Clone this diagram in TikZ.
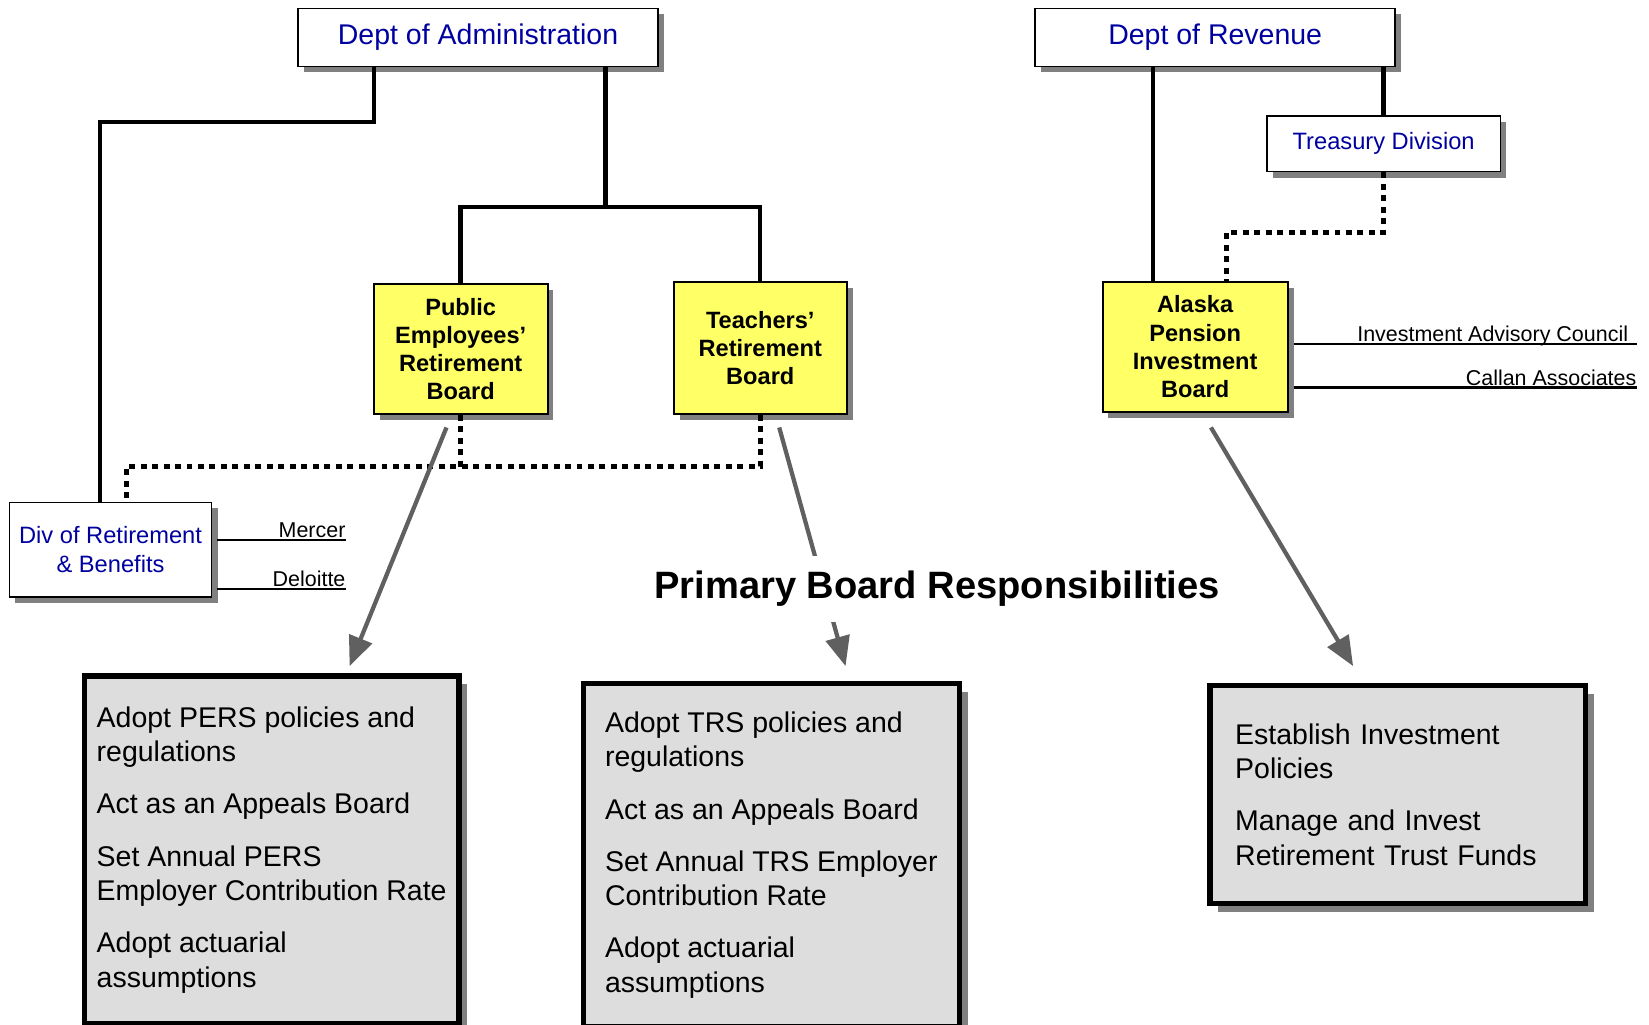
\documentclass[tikz,border=0pt]{standalone}
\usepackage{fontspec}
\setmainfont{Liberation Sans}
\usetikzlibrary{arrows.meta,shadows}

\definecolor{deptblue}{RGB}{0,0,160}
\definecolor{boardyellow}{RGB}{255,255,102}
\definecolor{dutygray}{RGB}{221,221,221}
\definecolor{shadowgray}{RGB}{128,128,128}
\definecolor{arrowgray}{RGB}{96,96,96}

\begin{document}
\begin{tikzpicture}[x=0.02cm, y=-0.02cm]
	\tikzstyle{boxshadow} = [drop shadow={shadow xshift=3.2pt, shadow yshift=-3.2pt, fill=shadowgray, opacity=1}]
	\tikzstyle{dept} = [draw, line width=0.8pt, fill=white, boxshadow, text=deptblue, inner sep=0pt, align=center]
	\tikzstyle{board} = [draw, line width=1.1pt, fill=boardyellow, boxshadow, inner sep=0pt, align=center, font=\bfseries\fontsize{12.75}{15.3}\selectfont]
	\tikzstyle{duties} = [draw, line width=2.8pt, fill=dutygray, inner sep=0pt, align=left, font=\fontsize{15.4}{18.6}\selectfont, drop shadow={shadow xshift=4.5pt, shadow yshift=-4.5pt, fill=shadowgray, opacity=1}]
	\tikzstyle{conn} = [line width=2.4pt]
	\tikzstyle{dotline} = [line width=2.5pt, dash pattern=on 3.2pt off 3pt]
	\tikzstyle{resparrow} = [line width=2.3pt, draw=arrowgray, -{Triangle[length=16pt, width=13pt]}]
	\tikzstyle{firmline} = [line width=1.1pt]
	\tikzstyle{firm} = [anchor=base east, inner sep=0pt, yshift=1.3pt, font=\fontsize{11.6}{13}\selectfont]

	\useasboundingbox (0,0) rectangle (1566,972.5);

	\node [dept, minimum width=6.84cm, minimum height=1.1cm, font=\fontsize{15.4}{18}\selectfont] (Admin) at (454,35.5) {Dept of Administration};
	\node [dept, minimum width=6.84cm, minimum height=1.1cm, font=\fontsize{15.4}{18}\selectfont] (Revenue) at (1154,35.5) {Dept of Revenue};
	\node [dept, minimum width=4.44cm, minimum height=1.06cm, font=\fontsize{12.8}{15}\selectfont] (Treasury) at (1314,136.5) {Treasury Division};
	\node [dept, minimum width=3.84cm, minimum height=1.8cm, font=\fontsize{12.8}{15.9}\selectfont] (DRB) at (105,522) {Div of Retirement\\\& Benefits};
	\node [board, minimum width=3.3cm, minimum height=2.46cm] (PERB) at (437.5,331.5) {Public\\Employees’\\Retirement\\Board};
	\node [board, minimum width=3.28cm, minimum height=2.5cm] (TRB) at (722,330.5) {Teachers’\\Retirement\\Board};
	\node [board, minimum width=3.52cm, minimum height=2.46cm] (APIB) at (1135,329.5) {Alaska\\Pension\\Investment\\Board};

	\node [duties, minimum width=7.12cm, minimum height=6.6cm] (PERSduties) at (258,807) {Adopt PERS policies and\\regulations\\[9.6pt]Act as an Appeals Board\\[9.6pt]Set Annual PERS\\Employer Contribution Rate\\[9.6pt]Adopt actuarial\\assumptions};
	\node [duties, minimum width=7.14cm, minimum height=6.52cm] (TRSduties) at (732.5,812) {Adopt TRS policies and\\regulations\\[9.6pt]Act as an Appeals Board\\[9.6pt]Set Annual TRS Employer\\Contribution Rate\\[9.6pt]Adopt actuarial\\assumptions};
	\node [duties, minimum width=7.14cm, minimum height=4.14cm, text width=6.18cm] (APIBduties) at (1327.5,754.5) {Establish Investment\\Policies\\[9.6pt]Manage and Invest\\Retirement Trust Funds};

	\draw [conn] ([xshift=-1.98cm]Admin.south) -- ++(0,52) -| ([xshift=-0.2cm]DRB.north);
	\draw [conn] ([xshift=2.42cm]Admin.south) -- ++(0,133) coordinate (Fork);
	\draw [conn] (PERB.north) |- (Fork) -| (TRB.north);
	\draw [conn] ([xshift=-0.8cm]APIB.north) -- ([xshift=-0.8cm]APIB.north |- Revenue.south);
	\draw [conn] (Treasury.north) -- (Treasury.north |- Revenue.south);

	\draw [dotline] (Treasury.south) -- ++(0,57) -| ([xshift=0.6cm]APIB.north);
	\draw [dotline] (PERB.south) -- ++(0,51);
	\draw [dotline] (TRB.south) -- ++(0,49) -| ([xshift=0.3cm]DRB.north);

	\coordinate (MercerEnd) at (329,513);
	\coordinate (DeloitteEnd) at (329,559);
	\coordinate (CouncilEnd) at (1555,327);
	\coordinate (CallanEnd) at (1555,368);
	\draw [firmline] ([xshift=2.5pt]DRB.east |- MercerEnd) -- (MercerEnd) node [firm] {Mercer};
	\draw [firmline] ([xshift=2.5pt]DRB.east |- DeloitteEnd) -- (DeloitteEnd) node [firm] {Deloitte};
	\draw [firmline] ([xshift=3pt]APIB.east |- CouncilEnd) -- (CouncilEnd) node [firm, xshift=-4.5pt] {Investment Advisory Council};
	\draw [firmline] ([xshift=3pt]APIB.east |- CallanEnd) -- (CallanEnd) node [firm] {Callan Associates};

	\draw [resparrow] ([xshift=-0.27cm, yshift=-0.24cm]PERB.south) -- ([xshift=1.48cm, yshift=0.14cm]PERSduties.north);
	\draw [resparrow] ([xshift=0.36cm, yshift=-0.24cm]TRB.south) -- ([xshift=1.41cm, yshift=0.28cm]TRSduties.north);
	\draw [resparrow] ([xshift=0.3cm, yshift=-0.28cm]APIB.south) -- ([xshift=-0.85cm, yshift=0.32cm]APIBduties.north);

	\node [fill=white, inner xsep=2pt, inner ysep=8.2pt, font=\bfseries\fontsize{20.6}{24}\selectfont] (Title) at (890,559) {Primary Board Responsibilities};
\end{tikzpicture}
\end{document}
